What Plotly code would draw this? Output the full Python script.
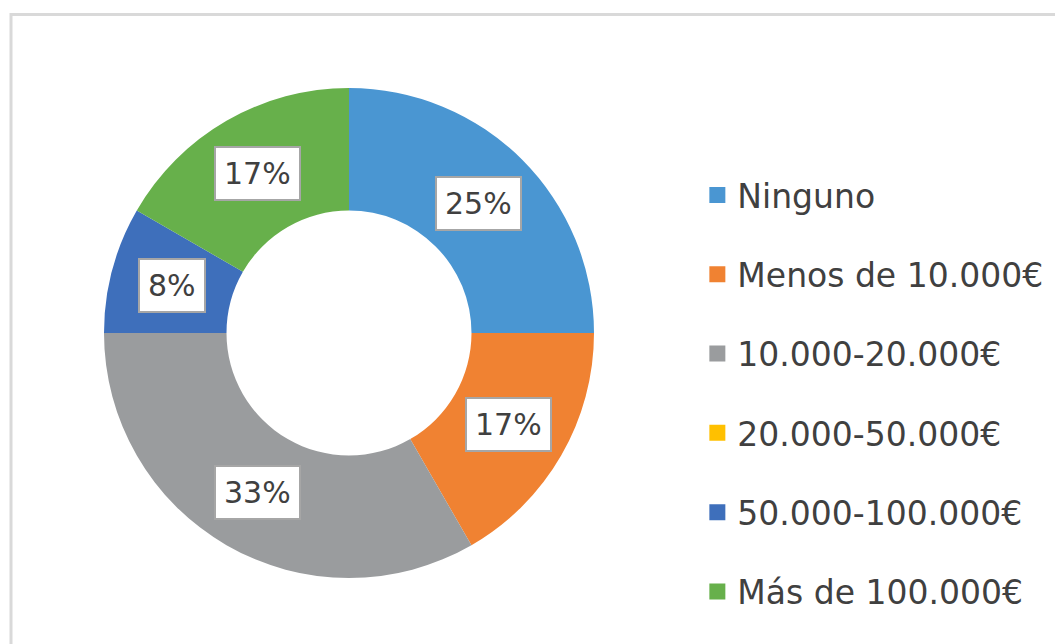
import math
import plotly.graph_objects as go

categories = ["Ninguno", "Menos de 10.000€", "10.000-20.000€", "20.000-50.000€",
              "50.000-100.000€", "Más de 100.000€"]
values = [25, 16.67, 33.33, 0, 8.33, 16.67]
pct_labels = ["25%", "17%", "33%", "", "8%", "17%"]
colors = ["#4a96d2", "#f08232", "#9a9c9e", "#ffc000", "#3e6fbb", "#67b04b"]

W, H = 1055, 644
FONT = "DejaVu Sans"
TXT = "#404040"

# pie placement (pixels)
cx, cy, R = 349, 333, 245
hole = 0.5

fig = go.Figure()
fig.add_trace(go.Pie(
    labels=categories, values=values, sort=False, direction="clockwise",
    rotation=0, hole=hole, marker=dict(colors=colors, line=dict(width=0)),
    textinfo="none", hoverinfo="label+percent", showlegend=False,
    domain=dict(x=[(cx - R) / W, (cx + R) / W],
                y=[(H - cy - R) / H, (H - cy + R) / H]),
))

# legend via dummy entries (for spacing control)
for i, (c, col) in enumerate(zip(categories, colors)):
    fig.add_trace(go.Scatter(
        x=[None], y=[None], mode="markers", name=c, legendgroup=str(i),
        marker=dict(symbol="square", size=16, color=col),
        showlegend=True,
    ))

# boxed percentage labels at slice centres
total = sum(values)
cum = 0.0
rmid = R * (1 + hole) / 2
for v, t in zip(values, pct_labels):
    mid = (cum + v / 2) / total * 2 * math.pi
    cum += v
    if not t:
        continue
    px = cx + rmid * math.sin(mid)
    py = cy - rmid * math.cos(mid)
    fig.add_annotation(
        x=px / W, y=1 - py / H, xref="paper", yref="paper", text=t,
        xanchor="center", yanchor="middle",
        showarrow=False, font=dict(family=FONT, size=30, color=TXT),
        bgcolor="white", bordercolor="#a6a6a6", borderwidth=2, borderpad=8,
    )

fig.add_shape(type="rect", xref="paper", yref="paper",
              x0=11 / W, x1=1.05, y0=-0.05, y1=1 - 14.5 / H,
              line=dict(color="#d9d9d9", width=3))

fig.update_layout(
    width=W, height=H, margin=dict(l=0, r=0, t=0, b=0),
    paper_bgcolor="white", plot_bgcolor="white",
    xaxis=dict(visible=False), yaxis=dict(visible=False),
    legend=dict(x=0.661, y=1 - 393.5 / H, xanchor="left", yanchor="middle",
                font=dict(family=FONT, size=33, color=TXT),
                tracegroupgap=33.4, itemwidth=30, bgcolor="rgba(0,0,0,0)"),
)

fig.write_html("out.html", config={"displayModeBar": False},
               post_script="document.body.style.margin='0';document.body.style.overflow='hidden';")
